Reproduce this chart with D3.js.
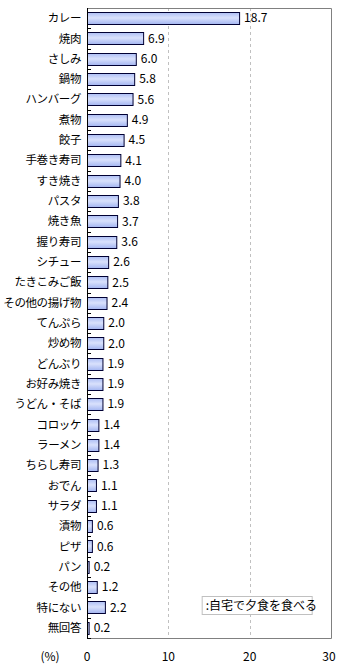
<!DOCTYPE html>
<html>
<head>
<meta charset="utf-8">
<script src="https://cdn.jsdelivr.net/npm/d3@7"></script>
<style>
  body { margin: 0; background: #fff; }
  svg { display: block; font-family: "Noto Sans CJK JP", "Noto Sans", sans-serif; }
</style>
</head>
<body>
<div id="chart"></div>
<script>
// data
const categories = ["カレー", "焼肉", "さしみ", "鍋物", "ハンバーグ", "煮物", "餃子", "手巻き寿司", "すき焼き", "パスタ",
  "焼き魚", "握り寿司", "シチュー", "たきこみご飯", "その他の揚げ物", "てんぷら", "炒め物", "どんぶり", "お好み焼き", "うどん・そば",
  "コロッケ", "ラーメン", "ちらし寿司", "おでん", "サラダ", "漬物", "ピザ", "パン", "その他", "特にない", "無回答"];
const values = [18.7, 6.9, 6.0, 5.8, 5.6, 4.9, 4.5, 4.1, 4.0, 3.8,
  3.7, 3.6, 2.6, 2.5, 2.4, 2.0, 2.0, 1.9, 1.9, 1.9,
  1.4, 1.4, 1.3, 1.1, 1.1, 0.6, 0.6, 0.2, 1.2, 2.2, 0.2];
const xTicks = [0, 10, 20, 30];
const legendLabel = ":自宅で夕食を食べる";
const unitLabel = "(%)";

const width = 340, height = 670;
const margin = { top: 8, right: 9, bottom: 32, left: 87 };
const innerW = width - margin.left - margin.right;
const innerH = height - margin.top - margin.bottom;

const data = categories.map((c, i) => ({ name: c, value: values[i] }));

const svg = d3.select("#chart").append("svg")
  .attr("width", width)
  .attr("height", height);

const defs = svg.append("defs");
const grad = defs.append("linearGradient")
  .attr("id", "barGrad")
  .attr("x1", 0).attr("y1", 0).attr("x2", 0).attr("y2", 1);
grad.append("stop").attr("offset", "0%").attr("stop-color", "#aebff5");
grad.append("stop").attr("offset", "45%").attr("stop-color", "#d9e1fc");
grad.append("stop").attr("offset", "100%").attr("stop-color", "#a3b5f1");

const chart = svg.append("g")
  .attr("transform", `translate(${margin.left}, ${margin.top})`);

const xScale = d3.scaleLinear().domain([0, 30]).range([0, innerW]);
const yScale = d3.scaleBand().domain(categories).range([0, innerH]).paddingInner(0.4).paddingOuter(0.2);

// dashed grid lines
chart.selectAll(".grid")
  .data(xTicks.filter(d => d > 0 && d < 30))
  .join("line")
  .attr("class", "grid")
  .attr("x1", d => Math.round(xScale(d)) + 0.5)
  .attr("x2", d => Math.round(xScale(d)) + 0.5)
  .attr("y1", 0).attr("y2", innerH)
  .attr("stroke", "#c0c0c0")
  .attr("stroke-dasharray", "3,3");

// plot frame (grey on top, right, bottom)
chart.append("path")
  .attr("d", `M0,0.5H${innerW + 0.5}V${innerH + 0.5}H0`)
  .attr("fill", "none")
  .attr("stroke", "#808080");

// bars
chart.selectAll(".bar")
  .data(data)
  .join("rect")
  .attr("class", "bar")
  .attr("x", 0.5)
  .attr("y", d => Math.round(yScale(d.name)) + 0.5)
  .attr("width", d => xScale(d.value))
  .attr("height", Math.round(yScale.bandwidth()))
  .attr("fill", "url(#barGrad)")
  .attr("stroke", "#000033")
  .attr("stroke-width", 1);

// value labels
chart.selectAll(".val")
  .data(data)
  .join("text")
  .attr("class", "val")
  .attr("x", d => xScale(d.value) + 5)
  .attr("y", d => yScale(d.name) + yScale.bandwidth() / 2)
  .attr("dy", "0.35em")
  .attr("font-size", 12)
  .attr("fill", "#000")
  .text(d => d.value.toFixed(1));

// left axis with inward ticks at band boundaries
const yAxisG = chart.append("g").attr("class", "axis y-axis");
yAxisG.append("line")
  .attr("x1", 0.5).attr("x2", 0.5)
  .attr("y1", 0).attr("y2", innerH + 1)
  .attr("stroke", "#000");
const step = yScale.step();
yAxisG.selectAll(".tick")
  .data(d3.range(1, categories.length + 1))
  .join("line")
  .attr("x1", 0).attr("x2", 4)
  .attr("y1", i => Math.round(i * step) + 0.5)
  .attr("y2", i => Math.round(i * step) + 0.5)
  .attr("stroke", "#000");

// category labels
chart.selectAll(".cat")
  .data(data)
  .join("text")
  .attr("class", "cat")
  .attr("x", -6)
  .attr("y", d => yScale(d.name) + yScale.bandwidth() / 2)
  .attr("dy", "0.35em")
  .attr("text-anchor", "end")
  .attr("font-size", 11.5)
  .attr("letter-spacing", -0.4)
  .attr("fill", "#000")
  .text(d => d.name);

// x tick labels
chart.selectAll(".xt")
  .data(xTicks)
  .join("text")
  .attr("class", "xt")
  .attr("x", d => xScale(d) + (d === 30 ? -2 : 0))
  .attr("y", innerH + 23)
  .attr("text-anchor", "middle")
  .attr("font-size", 12)
  .text(d => d);

svg.append("text")
  .attr("x", 50)
  .attr("y", margin.top + innerH + 23)
  .attr("text-anchor", "middle")
  .attr("font-size", 12)
  .text(unitLabel);

// legend box
const legend = chart.append("g")
  .attr("transform", `translate(${xScale(14.1)}, ${588})`);
legend.append("rect")
  .attr("x", 0.5).attr("y", 0.5)
  .attr("width", 110).attr("height", 18)
  .attr("fill", "#fff")
  .attr("stroke", "#c0c0c0");
legend.append("text")
  .attr("x", 4)
  .attr("y", 9.5)
  .attr("dy", "0.35em")
  .attr("font-size", 12)
  .text(legendLabel);
</script>
</body>
</html>
